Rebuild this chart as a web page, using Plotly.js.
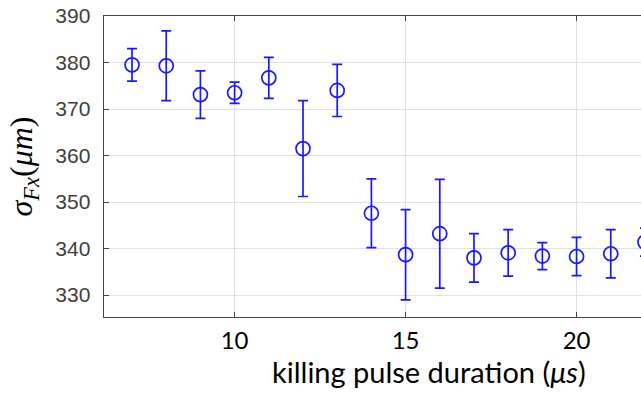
<!DOCTYPE html>
<html>
<head>
<meta charset="utf-8">
<script src="https://cdn.plot.ly/plotly-3.0.1.min.js"></script>
<style>
  html, body { margin: 0; padding: 0; overflow: hidden; background: #fff; }
  #chart { width: 660px; height: 393px; }
</style>
</head>
<body>
<div id="chart"></div>
<script>
// Killing pulse duration (µs)
const pulseDuration = [7, 8, 9, 10, 11, 12, 13, 14, 15, 16, 17, 18, 19, 20, 21, 22];
// Mean beam width sigma_Fx (µm)
const sigmaFx = [379.5, 379.3, 373.1, 373.5, 376.7, 361.5, 374.0, 347.6, 338.7, 343.2, 338.0, 339.1, 338.4, 338.3, 338.9, 341.4];
// Standard deviation (error bar half-length, µm)
const sigmaErr = [3.5, 7.5, 5.1, 2.3, 4.4, 10.3, 5.6, 7.4, 9.7, 11.7, 5.2, 5.0, 2.9, 4.1, 5.2, 3.0];
// Axis ticks
const xTicks = [10, 15, 20];
const yTicks = [330, 340, 350, 360, 370, 380, 390];

const blue = 'rgb(25,25,255)';
const axisGray = 'rgb(70,70,70)';
const sansFont = 'Lato, "Open Sans", sans-serif';
const mathFont = '"Liberation Serif", "DejaVu Serif", serif';

const trace = {
  x: pulseDuration,
  y: sigmaFx,
  type: 'scatter',
  mode: 'markers',
  cliponaxis: false,
  marker: { symbol: 'circle-open', size: 14, color: blue, line: { width: 1.7, color: blue } },
  error_y: { type: 'data', array: sigmaErr, visible: true, color: blue, thickness: 1.7, width: 5 }
};

const layout = {
  width: 660,
  height: 393,
  margin: { l: 104, r: 0, t: 16, b: 76 },
  paper_bgcolor: '#fff',
  plot_bgcolor: '#fff',
  showlegend: false,
  xaxis: {
    range: [6.18, 22.44],
    tickvals: xTicks,
    ticktext: xTicks.map(String),
    showgrid: true,
    gridcolor: 'rgb(225,225,225)',
    gridwidth: 1,
    zeroline: false,
    showline: true,
    linecolor: axisGray,
    linewidth: 1.4,
    mirror: 'ticks',
    ticks: 'inside',
    ticklen: 5,
    tickcolor: axisGray,
    ticklabelstandoff: 2,
    tickfont: { family: sansFont, size: 24, color: '#000' }
  },
  yaxis: {
    range: [325.3, 390],
    tickvals: yTicks,
    ticktext: yTicks.map(String),
    showgrid: true,
    gridcolor: 'rgb(225,225,225)',
    gridwidth: 1,
    zeroline: false,
    showline: true,
    linecolor: axisGray,
    linewidth: 1.4,
    mirror: 'ticks',
    ticks: 'inside',
    ticklen: 5,
    tickcolor: axisGray,
    ticklabelstandoff: 8,
    tickfont: { family: '"Liberation Sans", Arial, sans-serif', size: 21, color: 'rgb(64,64,64)' }
  },
  annotations: [
    {
      text: 'killing pulse duration (<i>μs</i>)',
      xref: 'paper', yref: 'paper',
      x: 0.5845, y: -0.18,
      xanchor: 'center', yanchor: 'middle',
      showarrow: false,
      font: { family: sansFont, size: 29, color: '#000' }
    },
    {
      text: '<i>σ</i><sub><i>Fx</i></sub>(<i>μm</i>)',
      xref: 'paper', yref: 'paper',
      x: -0.144, y: 0.5,
      xanchor: 'center', yanchor: 'middle',
      textangle: -90,
      showarrow: false,
      font: { family: mathFont, size: 32, color: '#000' }
    }
  ]
};

Plotly.newPlot('chart', [trace], layout, { displayModeBar: false, staticPlot: true });
</script>
</body>
</html>
